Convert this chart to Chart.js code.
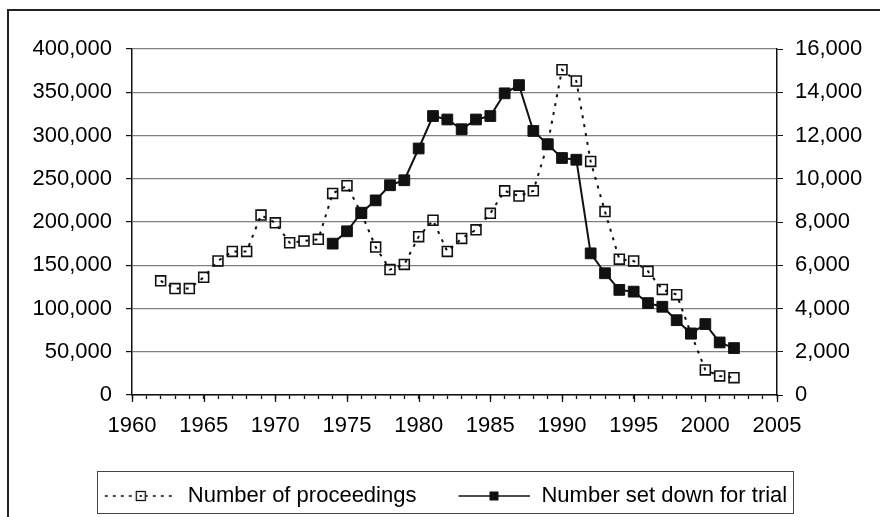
<!DOCTYPE html>
<html>
<head>
<meta charset="utf-8">
<title>Proceedings and trials</title>
<script src="https://cdn.jsdelivr.net/npm/chart.js@4.4.0/dist/chart.umd.min.js"></script>
<style>
  html, body { margin: 0; padding: 0; background: #fff; }
</style>
</head>
<body>
<canvas id="chart" width="880" height="517"></canvas>
<script>
"use strict";

// Number of proceedings (left axis)
var procYears = [1962, 1963, 1964, 1965, 1966, 1967, 1968, 1969, 1970, 1971,
  1972, 1973, 1974, 1975, 1976, 1977, 1978, 1979, 1980, 1981,
  1982, 1983, 1984, 1985, 1986, 1987, 1988, 1989, 1990, 1991,
  1992, 1993, 1994, 1995, 1996, 1997, 1998, 1999, 2000, 2001, 2002];
var procValues = [132000, 123000, 123000, 136000, 155000, 166000, 166000, 208000, 199000, 176000,
  178000, 180000, 233000, 242000, 210000, 171000, 145000, 151000, 183000, 202000,
  166000, 181000, 191000, 210000, 236000, 230000, 236000, 290000, 376000, 363000,
  270000, 212000, 157000, 155000, 143000, 122000, 116000, 71000, 29000, 22000, 20000];

// Number set down for trial (right axis)
var trialYears = [1974, 1975, 1976, 1977, 1978, 1979, 1980, 1981, 1982, 1983,
  1984, 1985, 1986, 1987, 1988, 1989, 1990, 1991, 1992, 1993,
  1994, 1995, 1996, 1997, 1998, 1999, 2000, 2001, 2002];
var trialValues = [7000, 7570, 8430, 9000, 9700, 9930, 11400, 12900, 12740, 12290,
  12740, 12900, 13950, 14330, 12210, 11590, 10960, 10880, 6550, 5630,
  4860, 4780, 4250, 4080, 3460, 2840, 3280, 2430, 2170];

var xTickLabels = [1960, 1965, 1970, 1975, 1980, 1985, 1990, 1995, 2000, 2005];
var leftTickMax = 400000, leftTickStep = 50000;
var rightTickMax = 16000, rightTickStep = 2000;
var seriesNames = ["Number of proceedings", "Number set down for trial"];

var INK = "#111";
var FONT = { family: "'Liberation Sans', Arial, Helvetica, sans-serif", size: 22 };

function toPoints(xs, ys) {
  return xs.map(function (x, i) { return { x: x, y: ys[i] }; });
}

// small canvases used as legend samples (line + marker)
var SAMPLE_W = 110;
function legendSample(dashed, filled) {
  var c = document.createElement("canvas");
  c.width = SAMPLE_W; c.height = 14;
  var g = c.getContext("2d");
  var x0 = SAMPLE_W - 72;
  g.strokeStyle = INK;
  g.lineWidth = 1.3;
  if (dashed) g.setLineDash([3, 5]);
  g.beginPath(); g.moveTo(x0, 7); g.lineTo(SAMPLE_W, 7); g.stroke();
  g.setLineDash([]);
  if (filled) {
    g.fillStyle = INK;
    g.fillRect(x0 + 31, 2.5, 9, 9);
  } else {
    g.fillStyle = "#fff";
    g.fillRect(x0 + 31, 2, 10, 10);
    g.lineWidth = 1.3;
    g.strokeRect(x0 + 31.5, 2.5, 9, 9);
    g.fillStyle = INK;
    g.fillRect(x0 + 35, 6, 2, 2);
  }
  return c;
}

var decor = {
  id: "decor",
  beforeDraw: function (chart) {
    var ctx = chart.ctx;
    ctx.save();
    ctx.fillStyle = "#fff";
    ctx.fillRect(0, 0, chart.width, chart.height);
    ctx.restore();
  },
  afterDraw: function (chart) {
    var ctx = chart.ctx;
    var xs = chart.scales.x;
    ctx.save();
    // outer frame (left and top edges only visible)
    ctx.strokeStyle = "#222";
    ctx.lineWidth = 2;
    ctx.beginPath();
    ctx.moveTo(8, chart.height);
    ctx.lineTo(8, 10);
    ctx.lineTo(chart.width, 10);
    ctx.stroke();
    // longer major ticks on the year axis
    ctx.lineWidth = 1.3;
    ctx.strokeStyle = INK;
    xTickLabels.forEach(function (yr) {
      var px = Math.round(xs.getPixelForValue(yr)) + 0.5;
      ctx.beginPath();
      ctx.moveTo(px, xs.top);
      ctx.lineTo(px, xs.top + 7);
      ctx.stroke();
    });
    // legend box
    var boxes = chart.legend.legendHitBoxes;
    if (boxes && boxes.length) {
      var l = Infinity, r = -Infinity, cy = 0;
      boxes.forEach(function (b) {
        l = Math.min(l, b.left);
        r = Math.max(r, b.left + b.width);
        cy += b.top + b.height / 2;
      });
      cy /= boxes.length;
      ctx.strokeStyle = "#444";
      ctx.lineWidth = 1;
      ctx.strokeRect(Math.round(l + SAMPLE_W - 72 - 8) + 0.5, Math.round(cy - 25) + 0.5,
        Math.round(r - l - (SAMPLE_W - 72) + 14), 42);
    }
    ctx.restore();
  }
};

new Chart(document.getElementById("chart"), {
  type: "line",
  data: {
    datasets: [
      {
        label: seriesNames[0],
        data: toPoints(procYears, procValues),
        yAxisID: "y",
        order: 2,
        borderColor: INK,
        borderWidth: 2,
        borderDash: [3, 6],
        pointStyle: "rect",
        pointRadius: 7,
        pointBorderWidth: 1.6,
        pointBorderColor: INK,
        pointBackgroundColor: "rgba(255,255,255,0)",
        tension: 0,
        fill: false
      },
      {
        label: seriesNames[1],
        data: toPoints(trialYears, trialValues),
        yAxisID: "y1",
        order: 1,
        borderColor: INK,
        borderWidth: 2,
        pointStyle: "rect",
        pointRadius: 7.6,
        pointBorderWidth: 1,
        pointBorderColor: INK,
        pointBackgroundColor: INK,
        tension: 0,
        fill: false
      }
    ]
  },
  options: {
    responsive: false,
    animation: false,
    devicePixelRatio: 1,
    layout: { padding: { left: -13, right: 13, top: 49, bottom: 0 } },
    plugins: {
      tooltip: { enabled: false },
      legend: {
        position: "bottom",
        labels: {
          usePointStyle: true,
          pointStyleWidth: SAMPLE_W,
          padding: 4,
          color: "#000",
          font: FONT,
          generateLabels: function (chart) {
            return [
              { text: seriesNames[0], pointStyle: legendSample(true, false), hidden: false,
                datasetIndex: 0, fontColor: "#000", lineWidth: 0, strokeStyle: INK, fillStyle: INK },
              { text: seriesNames[1], pointStyle: legendSample(false, true), hidden: false,
                datasetIndex: 1, fontColor: "#000", lineWidth: 0, strokeStyle: INK, fillStyle: INK }
            ];
          }
        }
      }
    },
    scales: {
      x: {
        type: "linear",
        position: "bottom",
        min: 1960,
        max: 2005,
        afterFit: function (s) { s.height = 86; },
        ticks: {
          stepSize: 1,
          autoSkip: false,
          maxRotation: 0,
          padding: 14,
          color: "#000",
          font: FONT,
          callback: function (v) { return xTickLabels.indexOf(v) >= 0 ? String(v) : ""; }
        },
        grid: { drawOnChartArea: false, tickLength: 4, tickColor: INK, tickWidth: 1.3 },
        border: { display: true, color: INK, width: 1.5 }
      },
      y: {
        position: "left",
        min: 0,
        max: leftTickMax,
        afterFit: function (s) { s.width = 145; },
        ticks: {
          stepSize: leftTickStep,
          padding: 14,
          color: "#000",
          font: FONT,
          callback: function (v) { return v.toLocaleString("en-US"); }
        },
        grid: { color: "#808080", lineWidth: 1.2, tickLength: 6, tickColor: INK },
        border: { display: true, color: INK, width: 1.5 }
      },
      y1: {
        position: "right",
        min: 0,
        max: rightTickMax,
        afterFit: function (s) { s.width = 90; },
        ticks: {
          stepSize: rightTickStep,
          padding: 12,
          color: "#000",
          font: FONT,
          callback: function (v) { return v.toLocaleString("en-US"); }
        },
        grid: { drawOnChartArea: false, tickLength: 6, color: INK },
        border: { display: true, color: INK, width: 1.5 }
      }
    }
  },
  plugins: [decor]
});
</script>
</body>
</html>
